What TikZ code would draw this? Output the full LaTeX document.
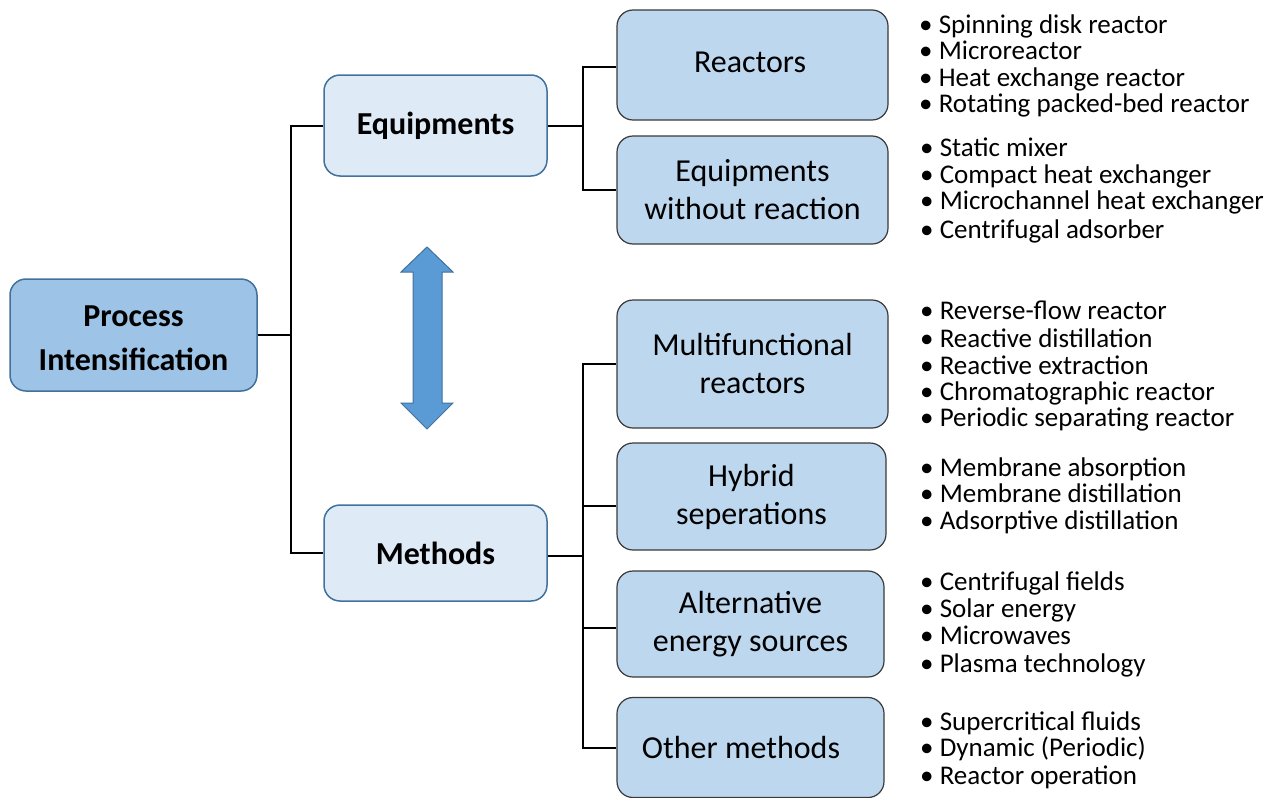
\documentclass[tikz,border=0pt]{standalone}
\usepackage{fontspec}
\setmainfont{Carlito}
\definecolor{pfill}{HTML}{9DC3E6}
\definecolor{pborder}{HTML}{41719C}
\definecolor{efill}{HTML}{DEEBF7}
\definecolor{bfill}{HTML}{BDD7EE}
\definecolor{bborder}{HTML}{3A3A3A}
\definecolor{arrfill}{HTML}{5B9BD5}
\tikzset{
  root/.style={draw=pborder, fill=pfill, line width=1.5pt, rounded corners=16pt, align=center,
    font=\fontsize{32}{44}\selectfont\bfseries},
  mid/.style={draw=pborder, fill=efill, line width=1.5pt, rounded corners=16pt, align=center,
    font=\fontsize{32}{40}\selectfont\bfseries},
  leaf/.style={draw=bborder, fill=bfill, line width=1.2pt, rounded corners=16pt, align=center,
    font=\fontsize{32}{38}\selectfont},
  item/.style={anchor=west, inner sep=0pt, text height=19pt, text depth=6pt,
    font=\fontsize{27}{30}\selectfont},
  conn/.style={line width=2pt, black},
}
\begin{document}
\begin{tikzpicture}[x=1pt,y=-1pt]
\useasboundingbox (0,0) rectangle (1275,798);
% boxes
\node[root, minimum width=247pt, minimum height=112pt] (P) at (133.5,335) {};
\node[root, draw=none, fill=none] (Pt) at (133.5,338) {Process\\Intensification};
\node[mid, minimum width=223pt, minimum height=101pt] (Eq) at (435.5,125.5) {Equipments};
\node[mid, minimum width=223pt, minimum height=96pt] (Me) at (435.5,553) {Methods};
\node[leaf, minimum width=271pt, minimum height=110pt] (R) at (752.5,65) {};
\node[leaf, draw=none, fill=none] (Rt) at (750,62) {Reactors};
\node[leaf, minimum width=271pt, minimum height=108pt] (Ew) at (752.5,190) {Equipments\\without reaction};
\node[leaf, minimum width=271pt, minimum height=128pt] (Mu) at (752.5,364) {Multifunctional\\reactors};
\node[leaf, minimum width=269pt, minimum height=107pt] (H) at (751.5,496.5) {Hybrid\\seperations};
\node[leaf, minimum width=267pt, minimum height=106pt] (A) at (750.5,624) {Alternative\\energy sources};
\node[leaf, minimum width=267pt, minimum height=100pt] (O) at (750.5,747.5) {};
\node[leaf, draw=none, fill=none] (Ot) at (741,747.5) {Other methods};
% connectors
\draw[conn] (P.east) -- ++(33,0) coordinate (j1);
\draw[conn] (j1) |- (Eq.west);
\draw[conn] (j1) |- (Me.west);
\draw[conn] (Eq.east) -- ++(35,0) coordinate (j2);
\draw[conn] (j2) |- ([yshift=-2pt]R.west);
\draw[conn] (j2) |- (Ew.west);
\draw[conn] ([yshift=-3pt]Me.east) -- ++(35,0) coordinate (j3);
\draw[conn] (j3) |- (Mu.west);
\draw[conn] (j3) |- ([yshift=-9.5pt]H.west);
\draw[conn] (j3) |- ([yshift=-4pt]A.west);
\draw[conn] (j3) |- (O.west);
% double arrow
\draw[draw=pborder, fill=arrfill, line width=1pt, line join=miter]
  (427,247) -- (453,272) -- (442,272) -- (442,403) -- (453,403) -- (427,429)
  -- (401,403) -- (413,403) -- (413,272) -- (401,272) -- cycle;
% lists
\foreach \t/\y [count=\i] in {Spinning disk reactor/27, Microreactor/53, Heat exchange reactor/80, Rotating packed-bed reactor/106}
  \node[item] (a\i) at (919,\y) {\textbullet\ \t};
\foreach \t/\y [count=\i] in {Static mixer/150, Compact heat exchanger/177, Microchannel heat exchanger/203, Centrifugal adsorber/232}
  \node[item] (b\i) at (920,\y) {\textbullet\ \t};
\foreach \t/\y [count=\i] in {Reverse-flow reactor/313, Reactive distillation/341, Reactive extraction/368, Chromatographic reactor/394, Periodic separating reactor/420}
  \node[item] (c\i) at (920,\y) {\textbullet\ \t};
\foreach \t/\y [count=\i] in {Membrane absorption/470, Membrane distillation/496, Adsorptive distillation/523}
  \node[item] (d\i) at (920,\y) {\textbullet\ \t};
\foreach \t/\y [count=\i] in {Centrifugal fields/584, Solar energy/611, Microwaves/638, Plasma technology/666}
  \node[item] (e\i) at (920,\y) {\textbullet\ \t};
\foreach \t/\y [count=\i] in {Supercritical fluids/724, Dynamic (Periodic)/750, Reactor operation/778}
  \node[item] (f\i) at (920,\y) {\textbullet\ \t};
\end{tikzpicture}
\end{document}
